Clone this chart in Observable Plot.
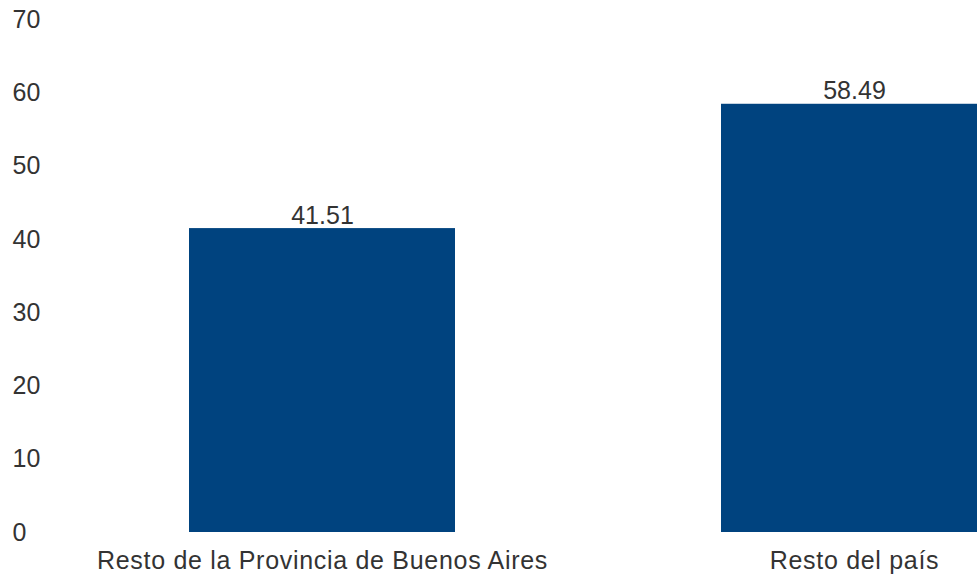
<!DOCTYPE html>
<html>
<head>
<meta charset="utf-8">
<script src="https://cdn.jsdelivr.net/npm/d3@7"></script>
<script src="https://cdn.jsdelivr.net/npm/@observablehq/plot@0.6"></script>
<style>
  html, body { margin: 0; padding: 0; background: #fff; overflow: hidden; }
  #chart svg { display: block; }
  #chart g[aria-label="x-axis tick label"] text { letter-spacing: 0.7px; }
</style>
</head>
<body>
<div id="chart"></div>
<script>
const categories = ["Resto de la Provincia de Buenos Aires", "Resto del país"];
const values = [41.51, 58.49];
const yTicks = [0, 10, 20, 30, 40, 50, 60, 70];

const data = categories.map((c, i) => ({category: c, value: values[i]}));
const font = "Liberation Sans, Arial, sans-serif";
const ink = "#333333";

const chart = Plot.plot({
  width: 977,
  height: 581,
  marginTop: 20,
  marginBottom: 49,
  marginLeft: 0,
  marginRight: 0,
  style: {fontFamily: font, fontSize: "25px", color: ink, background: "#fff"},
  x: {domain: categories, range: [55.3, 1120.1], paddingInner: 0.5, paddingOuter: 0.25},
  y: {domain: [0, 70], range: [532, 19.5]},
  marks: [
    Plot.barY(data, {x: "category", y: "value", fill: "#00437f"}),
    Plot.text(data, {x: "category", y: "value", text: d => d.value.toFixed(2), dy: -13, fill: ink, fontSize: 25}),
    Plot.axisX({tickSize: 0, tickPadding: 19, fontSize: 25, fill: ink, label: null}),
    Plot.axisY({ticks: yTicks, tickSize: 0, tickPadding: 0, dx: 12, textAnchor: "start", fontSize: 25, fill: ink, label: null})
  ]
});
document.getElementById("chart").appendChild(chart);
</script>
</body>
</html>
